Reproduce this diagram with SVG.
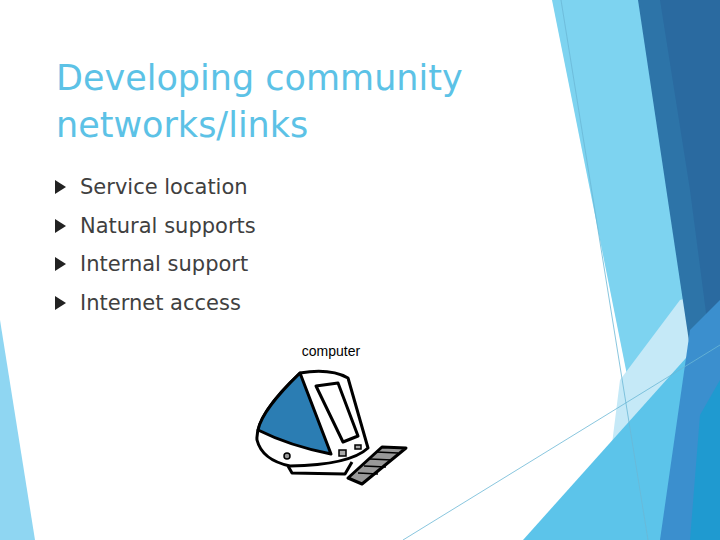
<svg xmlns="http://www.w3.org/2000/svg" width="720" height="540" viewBox="0 0 720 540">
<style>
.t{font-family:"DejaVu Sans",sans-serif;font-size:35px;fill:#5cc2e6}
.b{font-family:"DejaVu Sans",sans-serif;font-size:21px;fill:#404040}
.k{stroke:#000;stroke-width:3;stroke-linejoin:round}
</style>
<rect width="720" height="540" fill="#fff"/>
<g id="background">
<polygon points="0,320 35,540 0,540" fill="#8fd6f2"/>
<polygon points="552,0 640,0 720,300 720,540 660,540" fill="#7dd3f0"/>
<polygon points="600,540 620,380 680,300 720,290 720,540" fill="#c5e9f7"/>
<polygon points="523,540 720,320 720,540" fill="#5cc4ea"/>
<polygon points="638,0 720,0 720,420 700,415" fill="#2d74a8"/>
<polygon points="660,0 720,0 720,420 690,190" fill="#2a6aa0"/>
<polygon points="690,330 720,300 720,540 660,540" fill="#3b8fce"/>
<polygon points="700,415 720,380 720,540 690,540" fill="#1f9ad0"/>
<line x1="561" y1="0" x2="648" y2="540" stroke="#6bb8d6" stroke-width="0.8"/>
<line x1="403" y1="540" x2="720" y2="345" stroke="#6bb8d6" stroke-width="0.8"/>
</g>
<g id="title">
<text class="t" x="56" y="90">Developing community</text>
<text class="t" x="56" y="137">networks/links</text>
</g>
<g id="bullets">
<polygon points="55,180 55,194 66,187" fill="#222"/>
<polygon points="55,219 55,233 66,226" fill="#222"/>
<polygon points="55,257 55,271 66,264" fill="#222"/>
<polygon points="55,296 55,310 66,303" fill="#222"/>
<text class="b" x="80" y="194">Service location</text>
<text class="b" x="80" y="233">Natural supports</text>
<text class="b" x="80" y="271">Internal support</text>
<text class="b" x="80" y="310">Internet access</text>
</g>
<g id="computer">
<text x="331" y="356" font-family="Liberation Sans,sans-serif" font-size="14" text-anchor="middle" fill="#000">computer</text>
<path class="k" d="M300,373 Q330,368 348,378 L368,448 Q350,465 290,466 Q262,460 257,440 Q255,415 300,373 Z" fill="#fff"/>
<path class="k" d="M300,373 L331,454 Q290,446 258,430 Q262,410 300,373 Z" fill="#2b7db3"/>
<path class="k" d="M316,386 L338,383 L358,436 L343,442 Z" fill="#fff" stroke-width="2"/>
<path class="k" d="M288,466 L292,473 L345,474 L352,462" fill="none"/>
<circle cx="287" cy="456" r="3" fill="#999" stroke="#000" stroke-width="1.5"/>
<rect x="339" y="450" width="7" height="6" fill="#aaa" stroke="#000" stroke-width="1.5"/>
<rect x="355" y="445" width="6" height="4" fill="#aaa" stroke="#000" stroke-width="1.5"/>
<path class="k" d="M382,447 L406,448 L362,484 L348,478 Z" fill="#999" stroke-width="2.5"/>
<path d="M376,452 L398,453 M370,459 L392,460 M364,466 L386,467 M358,473 L378,474" stroke="#000" stroke-width="1.5"/>
</g>
</svg>
